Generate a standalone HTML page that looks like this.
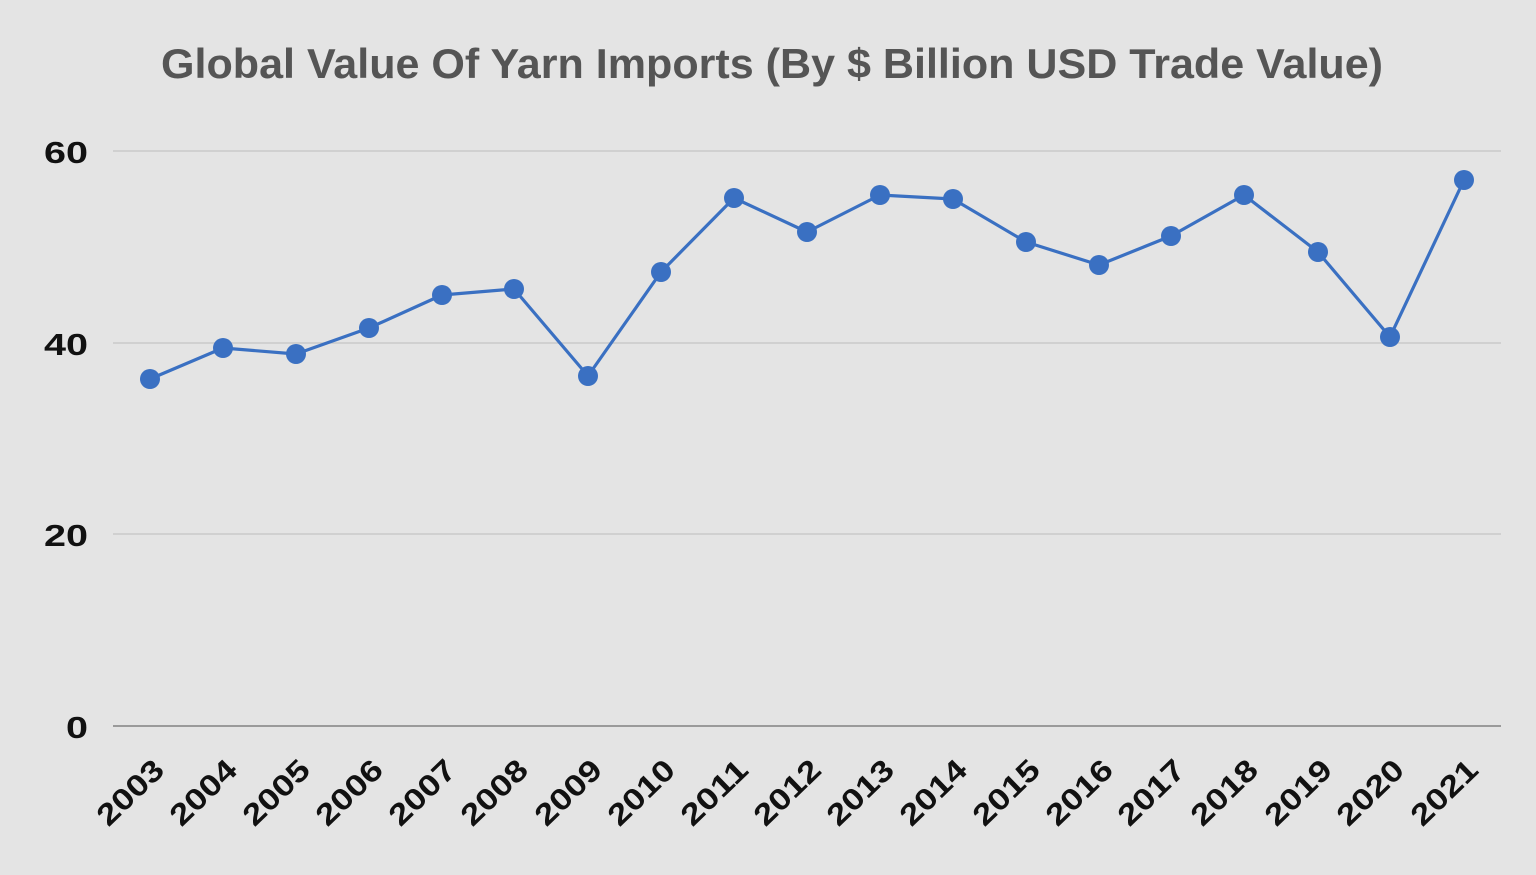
<!DOCTYPE html>
<html>
<head>
<meta charset="utf-8">
<style>
  html,body{margin:0;padding:0;background:#e4e4e4;}
  svg{display:block;}
</style>
</head>
<body>
<svg width="1536" height="875" viewBox="0 0 1536 875" xmlns="http://www.w3.org/2000/svg">
  <rect x="0" y="0" width="1536" height="875" fill="#e4e4e4"/>
  <text x="161" y="78" font-family="Liberation Sans, sans-serif" font-weight="bold" font-size="42" fill="#555555" textLength="1222" lengthAdjust="spacingAndGlyphs">Global Value Of Yarn Imports (By $ Billion USD Trade Value)</text>

  <!-- gridlines -->
  <g stroke="#c9c9c9" stroke-width="1.5">
    <line x1="113" y1="151" x2="1501" y2="151"/>
    <line x1="113" y1="343" x2="1501" y2="343"/>
    <line x1="113" y1="534" x2="1501" y2="534"/>
  </g>
  <line x1="113" y1="726" x2="1501" y2="726" stroke="#9a9a9a" stroke-width="2"/>

  <!-- y labels -->
  <g font-family="Liberation Sans, sans-serif" font-weight="bold" font-size="31" fill="#111" text-anchor="end">
    <text x="88" y="163" textLength="44" lengthAdjust="spacingAndGlyphs">60</text>
    <text x="88" y="355" textLength="44" lengthAdjust="spacingAndGlyphs">40</text>
    <text x="88" y="546" textLength="44" lengthAdjust="spacingAndGlyphs">20</text>
    <text x="88" y="738" textLength="22" lengthAdjust="spacingAndGlyphs">0</text>
  </g>

  <!-- series -->
  <polyline fill="none" stroke="#3a70c2" stroke-width="3.2" stroke-linejoin="round"
    points="150,379 223,348 296,354 369,328 442,295 514,289 588,376 661,272 734,198 807,232 880,195 953,199 1026,242 1099,265 1171,236 1244,195 1318,252 1390,337 1464,180"/>
  <g fill="#3a70c2">
    <circle cx="150" cy="379" r="10"/>
    <circle cx="223" cy="348" r="10"/>
    <circle cx="296" cy="354" r="10"/>
    <circle cx="369" cy="328" r="10"/>
    <circle cx="442" cy="295" r="10"/>
    <circle cx="514" cy="289" r="10"/>
    <circle cx="588" cy="376" r="10"/>
    <circle cx="661" cy="272" r="10"/>
    <circle cx="734" cy="198" r="10"/>
    <circle cx="807" cy="232" r="10"/>
    <circle cx="880" cy="195" r="10"/>
    <circle cx="953" cy="199" r="10"/>
    <circle cx="1026" cy="242" r="10"/>
    <circle cx="1099" cy="265" r="10"/>
    <circle cx="1171" cy="236" r="10"/>
    <circle cx="1244" cy="195" r="10"/>
    <circle cx="1318" cy="252" r="10"/>
    <circle cx="1390" cy="337" r="10"/>
    <circle cx="1464" cy="180" r="10"/>
  </g>

  <!-- x labels -->
  <g font-family="Liberation Sans, sans-serif" font-weight="bold" font-size="30" fill="#111" text-anchor="end">
    <text transform="translate(166,772) rotate(-44)" textLength="80" lengthAdjust="spacingAndGlyphs">2003</text>
    <text transform="translate(239,772) rotate(-44)" textLength="80" lengthAdjust="spacingAndGlyphs">2004</text>
    <text transform="translate(312,772) rotate(-44)" textLength="80" lengthAdjust="spacingAndGlyphs">2005</text>
    <text transform="translate(385,772) rotate(-44)" textLength="80" lengthAdjust="spacingAndGlyphs">2006</text>
    <text transform="translate(458,772) rotate(-44)" textLength="80" lengthAdjust="spacingAndGlyphs">2007</text>
    <text transform="translate(530,772) rotate(-44)" textLength="80" lengthAdjust="spacingAndGlyphs">2008</text>
    <text transform="translate(604,772) rotate(-44)" textLength="80" lengthAdjust="spacingAndGlyphs">2009</text>
    <text transform="translate(677,772) rotate(-44)" textLength="80" lengthAdjust="spacingAndGlyphs">2010</text>
    <text transform="translate(750,772) rotate(-44)" textLength="80" lengthAdjust="spacingAndGlyphs">2011</text>
    <text transform="translate(823,772) rotate(-44)" textLength="80" lengthAdjust="spacingAndGlyphs">2012</text>
    <text transform="translate(896,772) rotate(-44)" textLength="80" lengthAdjust="spacingAndGlyphs">2013</text>
    <text transform="translate(969,772) rotate(-44)" textLength="80" lengthAdjust="spacingAndGlyphs">2014</text>
    <text transform="translate(1042,772) rotate(-44)" textLength="80" lengthAdjust="spacingAndGlyphs">2015</text>
    <text transform="translate(1115,772) rotate(-44)" textLength="80" lengthAdjust="spacingAndGlyphs">2016</text>
    <text transform="translate(1187,772) rotate(-44)" textLength="80" lengthAdjust="spacingAndGlyphs">2017</text>
    <text transform="translate(1260,772) rotate(-44)" textLength="80" lengthAdjust="spacingAndGlyphs">2018</text>
    <text transform="translate(1334,772) rotate(-44)" textLength="80" lengthAdjust="spacingAndGlyphs">2019</text>
    <text transform="translate(1406,772) rotate(-44)" textLength="80" lengthAdjust="spacingAndGlyphs">2020</text>
    <text transform="translate(1480,772) rotate(-44)" textLength="80" lengthAdjust="spacingAndGlyphs">2021</text>
  </g>
</svg>
</body>
</html>
